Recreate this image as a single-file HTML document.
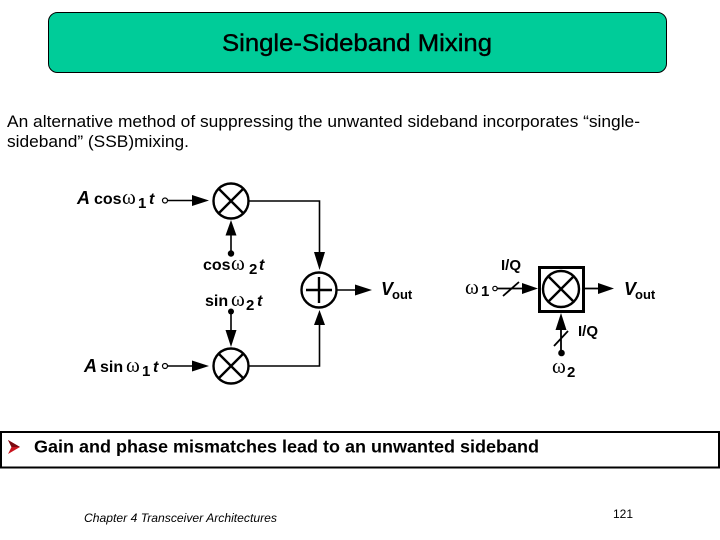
<!DOCTYPE html>
<html><head><meta charset="utf-8"><style>
html,body{margin:0;padding:0;background:#fff}
body{width:720px;height:540px;overflow:hidden;position:relative}
svg{position:absolute;left:0;top:0}
text{font-family:"Liberation Sans",sans-serif;fill:#000}
.l{font-weight:bold;font-size:16px}
.s{font-weight:bold;font-size:15px}
.i{font-weight:bold;font-style:italic;font-size:16px}
.a{font-weight:bold;font-style:italic;font-size:18px}
.v{font-weight:bold;font-style:italic;font-size:18px}
.o{font-weight:bold;font-size:13px}
.w{font-family:"Liberation Serif",serif;font-size:21px}
</style></head><body>
<svg width="720" height="540" viewBox="0 0 720 540" xmlns="http://www.w3.org/2000/svg">
<rect x="48.5" y="12.5" width="618" height="60" rx="9" fill="#00cc99" stroke="#000" stroke-width="1"/>
<text x="222" y="51" font-size="24" stroke="#000" stroke-width="0.4" textLength="270" lengthAdjust="spacingAndGlyphs">Single-Sideband Mixing</text>
<text x="7" y="127" font-size="16.8" textLength="633" lengthAdjust="spacingAndGlyphs">An alternative method of suppressing the unwanted sideband incorporates “single-</text>
<text x="7" y="147" font-size="16.8" textLength="182" lengthAdjust="spacingAndGlyphs">sideband” (SSB)mixing.</text>

<g stroke="#000" fill="none" stroke-width="1.6">
<circle cx="231" cy="201" r="17.500" stroke-width="2.400"/>
<path d="M218.500 188.500L243.500 213.500M243.500 188.500L218.500 213.500" stroke-width="2.400"/>
<circle cx="231" cy="366" r="17.500" stroke-width="2.400"/>
<path d="M218.500 353.500L243.500 378.500M243.500 353.500L218.500 378.500" stroke-width="2.400"/>
<circle cx="319" cy="290" r="17.500" stroke-width="2.400"/>
<path d="M306 290H332M319 277V303" stroke-width="2.400"/>
<circle cx="165" cy="200.500" r="2.500" stroke-width="1.200"/>
<circle cx="165" cy="366" r="2.500" stroke-width="1.200"/>
<path d="M168 200.500H195M168 366H195M249 201H319.500V255M249 366H319.500V322M337 290H358M231 253V232M231 312V335"/>
<rect x="539.500" y="267.500" width="44" height="44" stroke-width="3"/>
<circle cx="561" cy="289" r="18" stroke-width="2.400"/>
<path d="M549 277L573 301M573 277L549 301" stroke-width="2.400"/>
<circle cx="495" cy="288.500" r="2.200" stroke-width="1.200"/>
<path d="M497 288.500H525M584 288.500H600M561 352V325M503 296L519 282M554 346L568 331" stroke-width="1.800"/>
</g>
<g fill="#000">
<path d="M209 200.500L192 195V206Z"/>
<path d="M209 366L192 360.500V371.500Z"/>
<path d="M231 220L225.500 235.500H236.500Z"/>
<path d="M231 347L225.500 330H236.500Z"/>
<path d="M319.500 270L314 252H325Z"/>
<path d="M319.500 310L314 325H325Z"/>
<path d="M372 290L355 284.500V295.500Z"/>
<path d="M538 288.500L522 283V294Z"/>
<path d="M614 288.500L598 283V294Z"/>
<path d="M561 313L555.500 330H566.500Z"/>
<circle cx="231" cy="253.500" r="3.200"/>
<circle cx="231" cy="311.500" r="3"/>
<circle cx="561.500" cy="353" r="3.300"/>
</g>

<text x="77" y="204" class="a">A</text>
<text x="94" y="204" class="l">cos</text>
<text x="122" y="204" class="w">ω</text>
<text x="138" y="208" class="s">1</text>
<text x="149" y="204" class="i">t</text>

<text x="203" y="270" class="l">cos</text>
<text x="231" y="270" class="w">ω</text>
<text x="249" y="274" class="s">2</text>
<text x="259" y="270" class="i">t</text>

<text x="205" y="306" class="l">sin</text>
<text x="231" y="306" class="w">ω</text>
<text x="246" y="310" class="s">2</text>
<text x="257" y="306" class="i">t</text>

<text x="84" y="372" class="a">A</text>
<text x="100" y="372" class="l">sin</text>
<text x="126" y="372" class="w">ω</text>
<text x="142" y="376" class="s">1</text>
<text x="153" y="372" class="i">t</text>

<text x="381" y="295" class="v">V</text><text x="392" y="299" class="o">out</text>
<text x="624" y="295" class="v">V</text><text x="635" y="299" class="o">out</text>
<text x="501" y="270" class="s">I/Q</text>
<text x="578" y="336" class="s">I/Q</text>
<text x="465" y="294" class="w">ω</text>
<text x="481" y="296" class="s">1</text>
<text x="552" y="373" class="w">ω</text>
<text x="567" y="377" class="s">2</text>

<rect x="1" y="432" width="718" height="35.500" fill="#fff" stroke="#000" stroke-width="2"/>
<path d="M8 440L20 447L8 454L11.500 447Z" fill="#c8141e"/>
<path d="M8 440L20 447L11.500 447Z" fill="#7a0a10"/>
<text x="34" y="452.500" font-size="17.800" font-weight="bold" textLength="505" lengthAdjust="spacingAndGlyphs">Gain and phase mismatches lead to an unwanted sideband</text>
<text x="84" y="522" font-size="12" font-style="italic" textLength="193" lengthAdjust="spacingAndGlyphs">Chapter 4 Transceiver Architectures</text>
<text x="613" y="518" font-size="12">121</text>
</svg>
</body></html>
